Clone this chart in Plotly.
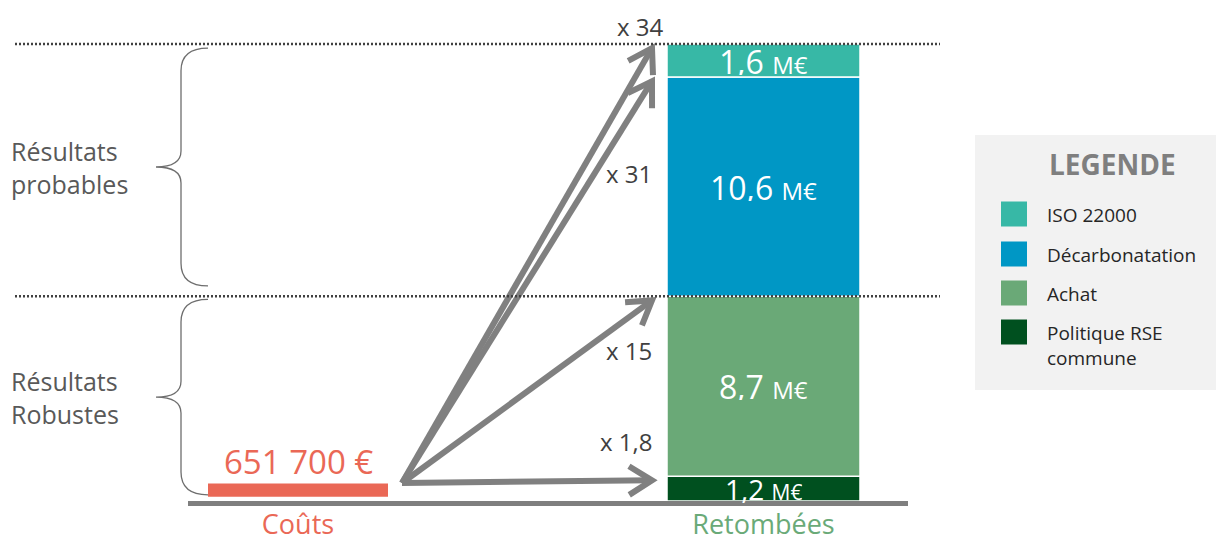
import numpy as np
import plotly.graph_objects as go

# ---------------- data ----------------
categories = ["Coûts", "Retombées"]
cost_value = 0.6517            # M€
cost_label = "651 700 €"
segment_names = ["Politique RSE commune", "Achat", "Décarbonatation", "ISO 22000"]
legend_labels = ["Politique RSE<br>commune", "Achat", "Décarbonatation", "ISO 22000"]
segment_values = [1.2, 8.7, 10.6, 1.6]   # M€, bottom -> top
segment_labels = ["1,2", "8,7", "10,6", "1,6"]
ratio_labels = ["x 1,8", "x 15", "x 31", "x 34"]
group_labels = ["Résultats<br>Robustes", "Résultats<br>probables"]

# ---------------- styles ----------------
segment_colors = ["#00501F", "#6AA977", "#0097C5", "#37B8A6"]
COST_COLOR = "#EA6856"
RET_COLOR = "#6AAA78"
ARROW_COLOR = "#808080"
TEXT_GREY = "#595959"
FONT = "Open Sans"

W, H = 1216, 543
Y0_PX, PX_PER = 501.0, 20.68        # pixel of 0 M€, pixels per M€
CAT0_PX, CAT_PX = 298.0, 465.5      # pixel of category 0, pixels per category step


def cx(p):  # pixel -> x data
    return (p - CAT0_PX) / CAT_PX


def vy(p):  # pixel -> y data
    return (Y0_PX - p) / PX_PER


def x2px(x):
    return CAT0_PX + x * CAT_PX


def y2px(y):
    return Y0_PX - y * PX_PER


def pxp(p):
    return p / W


def pyp(p):
    return 1 - p / H


vals = np.array(segment_values)
bases = np.concatenate([[0], np.cumsum(vals)[:-1]])
tops = np.cumsum(vals)
total = tops[-1]
robust_total = tops[1]

fig = go.Figure()

# cost bar
COST_BASE = 0.2
fig.add_trace(go.Bar(x=[0], y=[cost_value], base=[COST_BASE], width=[180 / CAT_PX],
                     marker=dict(color=COST_COLOR, line=dict(width=0)),
                     showlegend=False, hoverinfo="skip"))

# stacked segments
for name, v, b, c in zip(segment_names, vals, bases, segment_colors):
    fig.add_trace(go.Bar(x=[1], y=[v], base=[b], width=[193 / CAT_PX], name=name,
                         marker=dict(color=c, line=dict(color="white", width=1.5)),
                         showlegend=False))

# arrows with open chevron heads (computed in screen space)
tail_x, tail_y = cx(402), vy(483)
tip_x = cx(652)
tip_levels = tops - 0.2
HEAD_LEN, HEAD_ANG = 27.0, np.radians(32)
for t in tip_levels:
    tx, ty = x2px(tip_x), y2px(t)
    sx, sy = x2px(tail_x), y2px(tail_y)
    ux, uy = sx - tx, sy - ty
    n = np.hypot(ux, uy)
    ux, uy = ux / n, uy / n
    arms = []
    for s in (1, -1):
        ca, sa = np.cos(s * HEAD_ANG), np.sin(s * HEAD_ANG)
        ax_ = tx + HEAD_LEN * (ux * ca - uy * sa)
        ay_ = ty + HEAD_LEN * (ux * sa + uy * ca)
        arms.append((cx(ax_), vy(ay_)))
    xs = [tail_x, tip_x, None, arms[0][0], tip_x, arms[1][0]]
    ys = [tail_y, t, None, arms[0][1], t, arms[1][1]]
    fig.add_trace(go.Scatter(
        x=xs, y=ys, mode="lines", line=dict(color=ARROW_COLOR, width=6),
        showlegend=False, hoverinfo="skip"))

annotations = []
shapes = []

# segment labels (font limited by segment height)
for lab, b, v in zip(segment_labels, bases, vals):
    fs = int(min(32, 0.95 * v * PX_PER + 5))
    annotations.append(dict(
        x=1, y=b + v / 2, xref="x", yref="y", showarrow=False, height=min(28, fs),
        text=f"{lab} <span style='font-size:{round(fs * 0.75)}px'>M€</span>",
        font=dict(family=FONT, size=fs, color="white")))

# cost label
annotations.append(dict(x=0, y=COST_BASE + cost_value, xref="x", yref="y", yanchor="bottom",
                        yshift=-3, showarrow=False, text=cost_label,
                        font=dict(family=FONT, size=33, color=COST_COLOR)))

# ratio labels
ratio_label_px = [441, 350, 173, 26]
ratio_right_px = [654, 654, 654, 666]
for lab, ypx, xr in zip(ratio_labels, ratio_label_px, ratio_right_px):
    annotations.append(dict(x=cx(xr), y=vy(ypx), xref="x", yref="y", xanchor="right",
                            showarrow=False, text=lab,
                            font=dict(family=FONT, size=24, color="#404040")))

# dotted level lines
for lvl in [total, robust_total]:
    shapes.append(dict(type="line", xref="paper", yref="y", x0=pxp(15), x1=pxp(940),
                       y0=lvl, y1=lvl, line=dict(color="#404040", width=2.5, dash="2px,2px")))

# baseline
shapes.append(dict(type="line", xref="paper", yref="y", x0=pxp(188), x1=pxp(908),
                   y0=-0.12, y1=-0.12, line=dict(color="#7F7F7F", width=5)))


# braces
def brace(y_top, y_bot, xr=pxp(208), xl=pxp(181), xt=pxp(156), d=1.1):
    ym = (y_top + y_bot) / 2
    return (f"M{xr},{y_top} Q{xl},{y_top} {xl},{y_top - d} "
            f"L{xl},{ym + d * 0.7} Q{xl},{ym} {xt},{ym} "
            f"Q{xl},{ym} {xl},{ym - d * 0.7} "
            f"L{xl},{y_bot + d} Q{xl},{y_bot} {xr},{y_bot}"), ym


brace_spans = [(robust_total - 0.15, 0.3), (total - 0.2, robust_total + 0.5)]
for lab, (yt, yb) in zip(group_labels, brace_spans):
    path, ym = brace(yt, yb)
    shapes.append(dict(type="path", xref="paper", yref="y", path=path,
                       line=dict(color="#6E6E6E", width=1.3)))
    annotations.append(dict(x=pxp(9), y=ym, xref="paper", yref="y", xanchor="left",
                            yanchor="middle", align="left", showarrow=False, text=lab,
                            font=dict(family=FONT, size=25, color=TEXT_GREY)))

# legend box (manual)
shapes.append(dict(type="rect", xref="paper", yref="paper", x0=pxp(975), x1=1,
                   y0=pyp(390), y1=pyp(135), fillcolor="#F2F2F2", line=dict(width=0),
                   layer="below"))
annotations.append(dict(x=pxp(1112), y=pyp(164), xref="paper", yref="paper", showarrow=False,
                        xanchor="center", yanchor="middle",
                        text="<b>LEGENDE</b>", font=dict(family=FONT, size=28, color="#7F7F7F")))
item_centers = [214, 254, 293, 332]
for i, (lab, c) in enumerate(zip(legend_labels[::-1], segment_colors[::-1])):
    ycen = item_centers[i]
    shapes.append(dict(type="rect", xref="paper", yref="paper", x0=pxp(1001), x1=pxp(1027),
                       y0=pyp(ycen + 12.5), y1=pyp(ycen - 12.5), fillcolor=c,
                       line=dict(width=0)))
    annotations.append(dict(x=pxp(1045), y=pyp(ycen - 14), xref="paper", yref="paper",
                            xanchor="left", yanchor="top", align="left", showarrow=False,
                            text=lab, font=dict(family=FONT, size=19, color="#262626")))

fig.update_layout(
    width=W, height=H, margin=dict(l=0, r=0, t=0, b=0, autoexpand=False),
    paper_bgcolor="white", plot_bgcolor="white",
    barmode="overlay", showlegend=False,
    xaxis=dict(range=[cx(0), cx(W)], tickvals=[0, 1],
               ticktext=[f"<span style='color:{COST_COLOR}'>{categories[0]}</span>",
                         f"<span style='color:{RET_COLOR}'>{categories[1]}</span>"],
               tickfont=dict(family=FONT, size=27),
               anchor="free", position=pyp(506), showgrid=False, zeroline=False,
               showline=False, ticks="", fixedrange=True, automargin=False),
    yaxis=dict(range=[vy(H), vy(0)], visible=False, showgrid=False, zeroline=False,
               fixedrange=True, automargin=False),
    annotations=annotations, shapes=shapes,
)

fig.write_html("out.html")
